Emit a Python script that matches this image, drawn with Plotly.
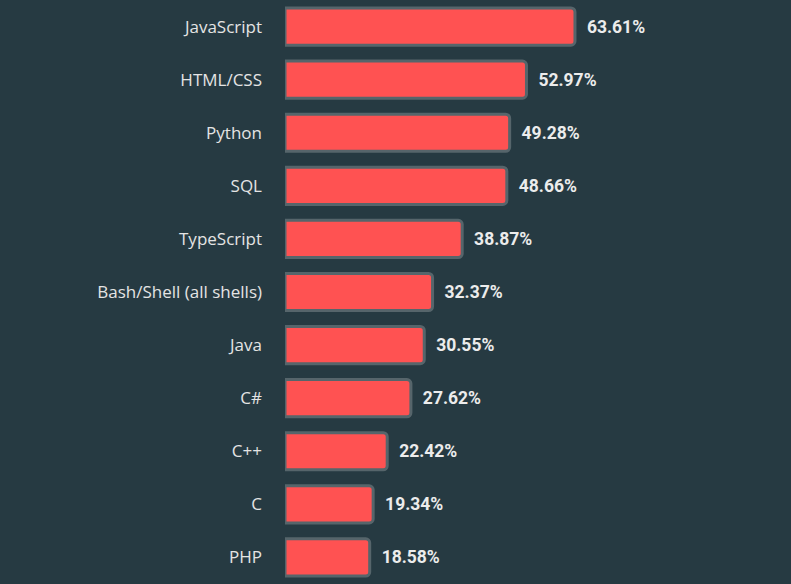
import plotly.graph_objects as go

languages = ["JavaScript", "HTML/CSS", "Python", "SQL", "TypeScript",
             "Bash/Shell (all shells)", "Java", "C#", "C++", "C", "PHP"]
percent = [63.61, 52.97, 49.28, 48.66, 38.87, 32.37, 30.55, 27.62, 22.42, 19.34, 18.58]
value_labels = [f"\u2002{v:.2f}%" for v in percent]

BG = "#263a42"

fig = go.Figure(go.Bar(
    x=percent,
    y=languages,
    orientation="h",
    text=value_labels,
    textposition="outside",
    cliponaxis=False,
    textfont=dict(family="Roboto", size=17.5, color="#ececec", weight="bold"),
    marker=dict(color="#ff5252", line=dict(color="#56656b", width=3), cornerradius=4),
    hoverinfo="skip",
))

fig.update_layout(
    width=791, height=584,
    margin=dict(l=285, r=0, t=0, b=0),
    paper_bgcolor=BG, plot_bgcolor=BG,
    bargap=0.30,
    showlegend=False,
    uniformtext=dict(minsize=8),
)
fig.update_xaxes(range=[0, 111], visible=False, showgrid=False, zeroline=False)
fig.update_yaxes(
    categoryorder="array", categoryarray=languages, autorange=False,
    range=[10.5, -0.5],
    showgrid=False, zeroline=False, showline=False, ticks="",
    ticklabelstandoff=22,
    tickfont=dict(family="Open Sans", size=17, color="#e4e4e4"),
)

fig.write_html("out.html")
